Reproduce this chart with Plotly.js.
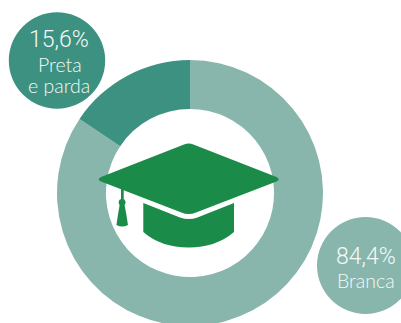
<!DOCTYPE html>
<html>
<head>
<meta charset="utf-8">
<script src="https://cdn.plot.ly/plotly-3.0.1.min.js"></script>
<style>
html,body{margin:0;padding:0;background:#fff;overflow:hidden;width:401px;height:323px}
#chart{width:401px;height:330px}
</style>
</head>
<body>
<div id="chart"></div>
<script>
// Share of graduates by race group
const groups = ['Branca', 'Preta e parda'];
const shares = [84.4, 15.6];
const shareLabels = ['84,4%', '15,6%'];
const sliceColors = ['#88b6ad', '#3c9181'];
const capGreen = '#1b8b4a';
const labelColor = '#f4f9f7';

const W = 401, H = 330;
const px = x => x / W;
const py = y => 1 - y / H;

// Builds a paper-referenced SVG path from pixel-style segments
function path(segments) {
  return segments.map(s => {
    const nums = s.slice(1).map((v, i) => i % 2 === 0 ? px(v).toFixed(5) : py(v).toFixed(5));
    return s[0] + ' ' + nums.join(' ');
  }).join(' ') + ' Z';
}
const solid = d => ({type: 'path', xref: 'paper', yref: 'paper', path: d, fillcolor: capGreen, line: {width: 0}, layer: 'above'});
const disc = (cx, cy, r, color) => ({
  type: 'circle', xref: 'paper', yref: 'paper',
  x0: px(cx - r), x1: px(cx + r), y0: py(cy + r), y1: py(cy - r),
  fillcolor: color, line: {width: 0}, layer: 'above'
});

// Mortarboard icon in the middle of the ring
const board = path([
  ['M', 184, 144.5], ['Q', 188.7, 142.5, 193.4, 144.5],
  ['L', 276.5, 177], ['Q', 281, 179.3, 276.5, 181.6],
  ['L', 196, 212.5], ['Q', 188.7, 215.5, 181.4, 212.5],
  ['L', 101, 181.6], ['Q', 96.5, 179.3, 101, 177]
]);
const base = path([
  ['M', 143.3, 203], ['L', 180, 217.5], ['Q', 188.7, 220.5, 197.4, 217.5],
  ['L', 234, 203], ['L', 234, 232], ['Q', 216, 247.5, 188.7, 247.5],
  ['Q', 161, 247.5, 143.3, 232]
]);
const cord = path([['M', 121, 187], ['L', 123.7, 188], ['L', 123.7, 201], ['L', 121, 201]]);
const tassel = path([
  ['M', 119.8, 204], ['L', 124.4, 204], ['Q', 126.4, 214, 128, 225],
  ['Q', 122, 228, 116.4, 225], ['Q', 118, 214, 119.8, 204]
]);

const text = (t, x, y, size, family) => ({
  text: t, xref: 'paper', yref: 'paper', x: px(x), y: py(y),
  xanchor: 'center', yanchor: 'middle', showarrow: false,
  font: {family: family + ', sans-serif', size: size, color: labelColor, weight: 300}
});

Plotly.newPlot('chart', [{
  type: 'pie',
  labels: groups,
  values: shares,
  sort: false,
  direction: 'clockwise',
  rotation: 0,
  hole: 0.632,
  textinfo: 'none',
  hoverinfo: 'none',
  marker: {colors: sliceColors, line: {width: 0}},
  domain: {x: [57 / W, 323 / W], y: [4 / H, 270 / H]}
}], {
  width: W, height: H,
  margin: {l: 0, r: 0, t: 0, b: 0},
  paper_bgcolor: '#fff',
  showlegend: false,
  shapes: [
    disc(57, 60.5, 48.2, sliceColors[1]),
    disc(365.5, 265.5, 48.5, sliceColors[0]),
    solid(base), solid(cord), disc(122.1, 202.3, 3.4, capGreen), solid(tassel), solid(board)
  ],
  annotations: [
    text(shareLabels[1], 59, 39.5, 23, 'Roboto'),
    text('Preta', 59.5, 64, 19.5, 'Lato'),
    text('e parda', 59, 85.5, 19.5, 'Lato'),
    text(shareLabels[0], 365.5, 256, 23, 'Roboto'),
    text(groups[0], 366, 280, 19.5, 'Lato')
  ]
}, {displayModeBar: false, staticPlot: true});
</script>
</body>
</html>
